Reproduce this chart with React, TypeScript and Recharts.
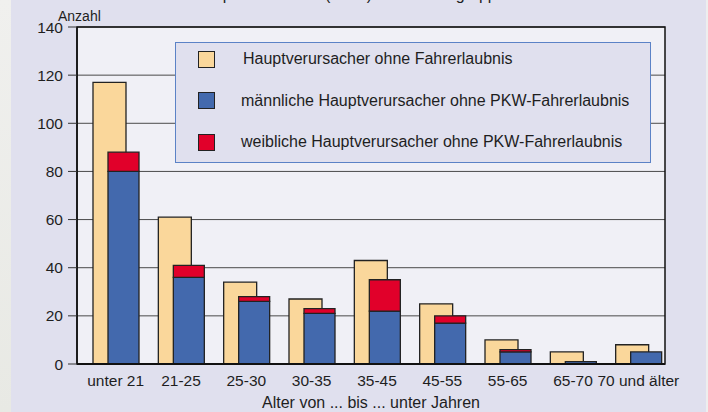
import React from 'react';
import { BarChart, Bar, XAxis, YAxis, CartesianGrid, ReferenceArea } from 'recharts';

const kategorien = ['unter 21', '21-25', '25-30', '30-35', '35-45', '45-55', '55-65', '65-70', '70 und älter'];
const gesamt = [117, 61, 34, 27, 43, 25, 10, 5, 8];
const maennlich = [80, 36, 26, 21, 22, 17, 5, 1, 5];
const weiblich = [8, 5, 2, 2, 13, 3, 1, 0, 0];
const yTicks = [0, 20, 40, 60, 80, 100, 120, 140];

const serien = [
  { key: 'gesamt', name: 'Hauptverursacher ohne Fahrerlaubnis', color: '#fad79b' },
  { key: 'maennlich', name: 'männliche Hauptverursacher ohne PKW-Fahrerlaubnis', color: '#4369ad' },
  { key: 'weiblich', name: 'weibliche Hauptverursacher ohne PKW-Fahrerlaubnis', color: '#e1002a' },
];

const data = kategorien.map((k, i) => ({
  name: k,
  gesamt: gesamt[i],
  maennlich: maennlich[i],
  weiblich: weiblich[i],
}));

const font = '"Liberation Sans", Arial, sans-serif';
const ink = '#1e1e1e';

const Legende = () => (
  <div
    style={{
      position: 'absolute', left: 175, top: 42, width: 476, height: 121, boxSizing: 'border-box',
      border: '1.5px solid #5b82c6', background: '#e0e0ee', fontFamily: font, fontSize: 16, color: ink,
    }}
  >
    {serien.map((s, i) => (
      <div key={s.key} style={{ position: 'absolute', left: 22, top: 7 + i * 41.5, height: 18, display: 'flex', alignItems: 'center' }}>
        <span style={{ width: 15, height: 15, flex: 'none', background: s.color, border: '1px solid #222', display: 'inline-block' }} />
        <span style={{ marginLeft: i === 0 ? 28 : 26, whiteSpace: 'nowrap' }}>{s.name}</span>
      </div>
    ))}
  </div>
);

export default function App() {
  return (
    <div style={{ position: 'absolute', left: 0, top: 0, width: 708, height: 412, overflow: 'hidden', background: '#e0e0ee', fontFamily: font }}>
      <div style={{ position: 'absolute', left: 0, top: 0, width: 11, height: 412, background: 'linear-gradient(#f0f0ee, #e8e9e4)' }} />
      <div style={{ position: 'absolute', left: 706, top: 0, width: 2, height: 412, background: '#eeeeee' }} />
      <div style={{ position: 'absolute', left: 0, top: -13, width: 708, textAlign: 'center', fontSize: 16, lineHeight: '16px', color: ink }}>
        Hauptverursacher (PKW) nach Altersgruppen
      </div>
      <div style={{ position: 'absolute', left: 0, top: 0 }}>
        <BarChart width={708} height={412} data={data} margin={{ top: 27, right: 43, left: 0, bottom: 0 }} barGap={-18}>
          <CartesianGrid vertical={false} stroke="#4a4a4a" fill="#f0f0f6" />
          <XAxis
            dataKey="name"
            height={48}
            padding={{ left: 6, right: -6 }}
            tickLine={false}
            tickSize={0}
            tickMargin={11}
            axisLine={{ stroke: '#111', strokeWidth: 2 }}
            tick={{ fontSize: 15.5, fill: ink, fontFamily: font }}
            interval={0}
            label={{ value: 'Alter von ... bis ...  unter Jahren', position: 'insideBottom', offset: 4, fontSize: 16, fill: ink, fontFamily: font }}
          />
          <XAxis xAxisId="rahmen" type="number" domain={[0, 1]} hide />
          <YAxis
            width={77}
            domain={[0, 140]}
            ticks={yTicks}
            tickSize={9}
            tickMargin={5}
            tickLine={{ stroke: '#333' }}
            axisLine={{ stroke: '#111', strokeWidth: 1.5 }}
            tick={{ fontSize: 15.5, fill: ink, fontFamily: font }}
            label={{
              content: (p: any) => (
                <text x={p.viewBox.x + p.viewBox.width - 19} y={p.viewBox.y - 6} fontSize={14} fill={ink} fontFamily={font}>
                  Anzahl
                </text>
              ),
            }}
          />
          <ReferenceArea xAxisId="rahmen" y1={0} y2={140} fill="none" stroke="#111" strokeWidth={1.5} ifOverflow="visible" />
          <Bar dataKey="gesamt" name={serien[0].name} stackId="g" fill={serien[0].color} stroke="#222" strokeWidth={1.3} barSize={33} isAnimationActive={false} />
          <Bar dataKey="maennlich" name={serien[1].name} stackId="w" fill={serien[1].color} stroke="#222" strokeWidth={1.3} barSize={31} isAnimationActive={false} />
          <Bar dataKey="weiblich" name={serien[2].name} stackId="w" fill={serien[2].color} stroke="#222" strokeWidth={1.3} barSize={31} isAnimationActive={false} />
        </BarChart>
      </div>
      <Legende />
    </div>
  );
}
